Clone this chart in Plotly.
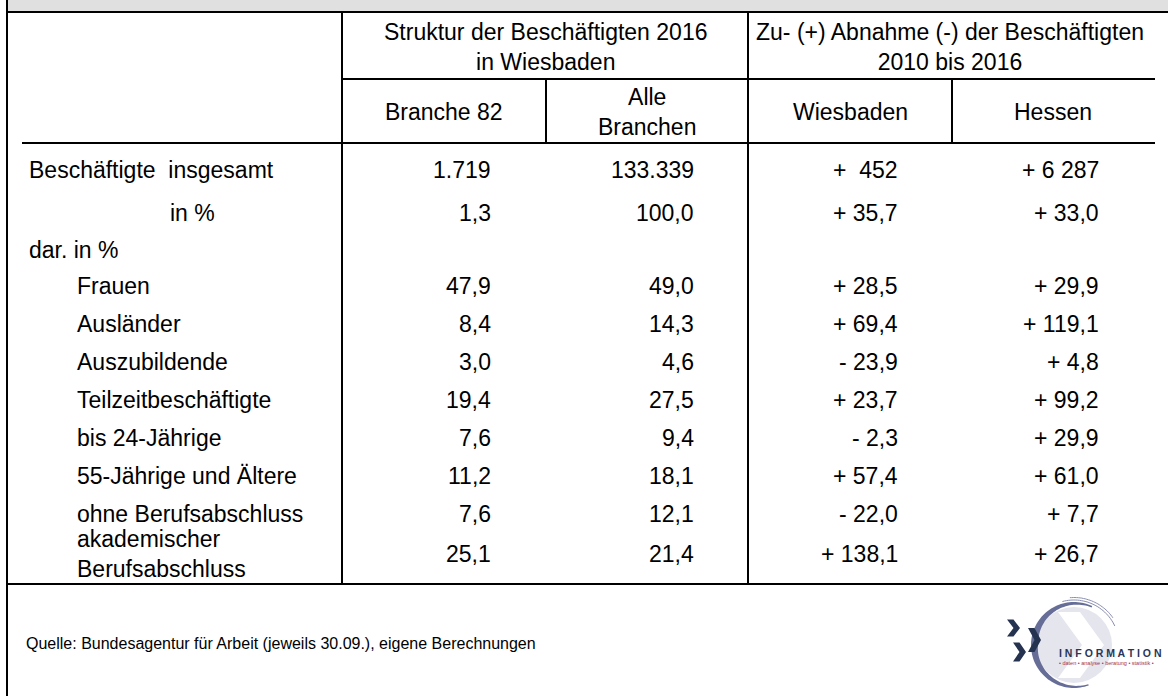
import numpy as np
import plotly.graph_objects as go

# ---------------- data ----------------
row_labels = ["Beschäftigte  insgesamt", "in %", "dar. in %", "Frauen", "Ausländer",
              "Auszubildende", "Teilzeitbeschäftigte", "bis 24-Jährige",
              "55-Jährige und Ältere", "ohne Berufsabschluss",
              "akademischer<br>Berufsabschluss"]
branche82 = ["1.719", "1,3", "", "47,9", "8,4", "3,0", "19,4", "7,6", "11,2", "7,6", "25,1"]
alle_branchen = ["133.339", "100,0", "", "49,0", "14,3", "4,6", "27,5", "9,4", "18,1", "12,1", "21,4"]
wiesbaden = ["+  452", "+ 35,7", "", "+ 28,5", "+ 69,4", "- 23,9", "+ 23,7", "- 2,3",
             "+ 57,4", "- 22,0", "+ 138,1"]
hessen = ["+ 6 287", "+ 33,0", "", "+ 29,9", "+ 119,1", "+ 4,8", "+ 99,2", "+ 29,9",
          "+ 61,0", "+ 7,7", "+ 26,7"]
group_headers = ["Struktur der Beschäftigten 2016<br>in Wiesbaden",
                 "Zu- (+) Abnahme (-) der Beschäftigten<br>2010 bis 2016"]
col_headers = ["Branche 82", "Alle<br>Branchen", "Wiesbaden", "Hessen"]
source_note = "Quelle: Bundesagentur für Arbeit (jeweils 30.09.), eigene Berechnungen"
logo_word = "INFORMATION"
logo_claim = "• daten • analyse • beratung • statistik •"

# ---------------- layout geometry (pixels) ----------------
W, H = 1168, 696
FONT = "Liberation Sans, Arial, sans-serif"
row_y = [170, 213, 250, 286, 324, 362, 400, 438, 476, 514, 554]
label_x = [27, 168, 27, 75, 75, 75, 75, 75, 75, 75, 75]
col_right = [493, 696, 900, 1101]
group_cx = [545, 950]
col_cx = [444, 647, 850, 1053]

def nb(s):
    return s.replace("  ", "\u00a0\u00a0")

fig = go.Figure()
annotations = []
shapes = []

# grey title band (title cut off)
shapes.append(dict(type="rect", xref="x", yref="y", x0=7, x1=W, y0=0, y1=12,
                   fillcolor="#e0e0e0", line=dict(width=0), layer="below"))

def hline(x0, x1, y):
    shapes.append(dict(type="line", xref="x", yref="y", x0=x0, x1=x1, y0=y, y1=y,
                       line=dict(color="black", width=2)))

def vline(x, y0, y1):
    shapes.append(dict(type="line", xref="x", yref="y", x0=x, x1=x, y0=y0, y1=y1,
                       line=dict(color="black", width=2)))

vline(7, 0, H)
hline(7, W, 12)
hline(342, 1155, 79)
hline(22, 1155, 143)
hline(7, W, 584)
vline(342, 12, 584)
vline(748, 12, 584)
vline(546, 79, 143)
vline(952, 79, 143)

# headers
for txt, cx in zip(group_headers, group_cx):
    annotations.append(dict(x=cx, y=47, xref="x", yref="y", text=txt, showarrow=False,
                            xanchor="center", yanchor="middle", align="center",
                            font=dict(family=FONT, size=23, color="black")))
for txt, cx in zip(col_headers, col_cx):
    annotations.append(dict(x=cx, y=112, xref="x", yref="y", text=txt, showarrow=False,
                            xanchor="center", yanchor="middle", align="center",
                            font=dict(family=FONT, size=23, color="black")))

# row labels
for txt, x, y in zip(row_labels, label_x, row_y):
    annotations.append(dict(x=x, y=y, xref="x", yref="y", text=nb(txt), showarrow=False,
                            xanchor="left", yanchor="middle", align="left",
                            font=dict(family=FONT, size=23, color="black")))

# values
for col, xr in zip([branche82, alle_branchen, wiesbaden, hessen], col_right):
    for txt, y in zip(col, row_y):
        if not txt:
            continue
        annotations.append(dict(x=xr, y=y, xref="x", yref="y", text=nb(txt), showarrow=False,
                                xanchor="right", yanchor="middle", align="right",
                                font=dict(family=FONT, size=23, color="black")))

# source
annotations.append(dict(x=24, y=643, xref="x", yref="y", text=source_note, showarrow=False,
                        xanchor="left", yanchor="middle",
                        font=dict(family=FONT, size=16, color="black")))

# ---------------- logo ----------------
cx, cy = 1074, 645
shapes.append(dict(type="circle", xref="x", yref="y", x0=cx - 38, x1=cx + 38,
                   y0=cy - 38, y1=cy + 38, fillcolor="#e4e5ed", line=dict(width=0)))
shapes.append(dict(type="path", xref="x", yref="y",
                   path=f"M {cx-16},{cy-33} L {cx+6},{cy-33} L {cx+30},{cy} L {cx+6},{cy+33} "
                        f"L {cx-16},{cy+33} L {cx+8},{cy} Z",
                   fillcolor="white", line=dict(width=0)))
th = np.radians(np.linspace(65, 290, 80))
mid = np.radians(175)
thick = 1.2 + 6.0 * np.clip(1 - np.abs(th - mid) / np.radians(115), 0, 1)
Ro = 43
outer = [(cx + Ro * np.cos(t), cy - Ro * np.sin(t)) for t in th]
inner = [(cx + (Ro - k) * np.cos(t), cy - (Ro - k) * np.sin(t)) for t, k in zip(th[::-1], thick[::-1])]
pts = outer + inner
path = "M " + " L ".join(f"{px:.1f},{py:.1f}" for px, py in pts) + " Z"
shapes.append(dict(type="path", xref="x", yref="y", path=path,
                   fillcolor="#666d96", line=dict(width=0)))
for rr, a0, a1 in [(45, 25, 105), (47.5, 35, 95)]:
    tt = np.radians(np.linspace(a0, a1, 30))
    p = "M " + " L ".join(f"{cx + rr*np.cos(t):.1f},{cy - rr*np.sin(t):.1f}" for t in tt)
    shapes.append(dict(type="path", xref="x", yref="y", path=p,
                       line=dict(color="#8a8fb2", width=1)))

def chevron(x0, yc, w, h):
    return (f"M {x0},{yc-h} L {x0+w*0.5},{yc-h} L {x0+w},{yc} L {x0+w*0.5},{yc+h} "
            f"L {x0},{yc+h} L {x0+w*0.5},{yc} Z")

for x0, yc, w, h in [(1007, 628, 13, 8.5), (1013, 652, 13, 9.5), (1028, 640, 13, 12)]:
    shapes.append(dict(type="path", xref="x", yref="y", path=chevron(x0, yc, w, h),
                       fillcolor="#263350", line=dict(width=0)))

annotations.append(dict(x=1057, y=653, xref="x", yref="y", text=" ".join(logo_word),
                        showarrow=False, xanchor="left", yanchor="middle",
                        font=dict(family="Liberation Sans, Arial", size=10.5, color="#2a3656",
                                  weight="bold")))
annotations.append(dict(x=1057, y=663, xref="x", yref="y", text=logo_claim,
                        showarrow=False, xanchor="left", yanchor="middle",
                        font=dict(family="Liberation Sans, Arial", size=5.5, color="#a8324a")))

fig.update_layout(
    width=W, height=H,
    margin=dict(l=0, r=0, t=0, b=0),
    paper_bgcolor="white", plot_bgcolor="white",
    xaxis=dict(range=[0, W], visible=False, fixedrange=True),
    yaxis=dict(range=[H, 0], visible=False, fixedrange=True),
    shapes=shapes, annotations=annotations,
    showlegend=False,
)

fig.write_html("out.html", config={"displayModeBar": False},
               post_script="document.body.style.margin='0';document.body.style.overflow='hidden';")
